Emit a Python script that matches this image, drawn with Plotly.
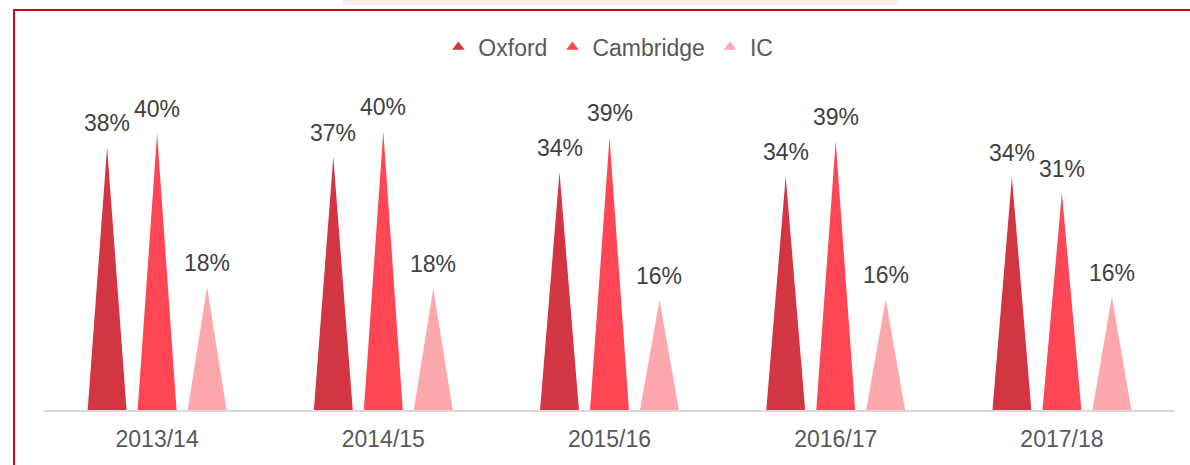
import plotly.graph_objects as go

years = ["2013/14", "2014/15", "2015/16", "2016/17", "2017/18"]
oxford = [38.0, 36.6, 34.4, 33.8, 33.7]
cambridge = [40.0, 40.3, 39.4, 38.9, 31.4]
ic = [17.8, 17.6, 15.9, 16.0, 16.4]

series = [
    ("Oxford", oxford, "#D33643"),
    ("Cambridge", cambridge, "#FE4654"),
    ("IC", ic, "#FDA8AD"),
]

FONT = "Liberation Sans, Arial, sans-serif"
slot = 0.221      # distance between triangle centres (category units)
half_w = 0.086    # half base width of each triangle

fig = go.Figure()
annotations = []

for k, (name, vals, color) in enumerate(series):
    off = (k - 1) * slot
    xs, ys = [], []
    for i, v in enumerate(vals):
        xs += [i + off - half_w, i + off, i + off + half_w, None]
        ys += [0, v, 0, None]
        annotations.append(dict(
            x=i + off, y=v, text=f"{round(v)}%", showarrow=False,
            yanchor="middle", yshift=24,
            font=dict(family=FONT, size=23, color="#404040")))
    fig.add_trace(go.Scatter(
        x=xs, y=ys, mode="lines", fill="toself", fillcolor=color,
        line=dict(width=0, color=color), hoverinfo="skip", showlegend=False))
    # legend entry only
    fig.add_trace(go.Scatter(
        x=[None], y=[None], mode="markers", name=name,
        marker=dict(symbol="triangle-up", size=11, color=color)))

fig.update_layout(
    width=1190, height=465,
    margin=dict(l=44, r=15, t=80, b=55),
    paper_bgcolor="white", plot_bgcolor="white",
    font=dict(family=FONT, size=23, color="#595959"),
    legend=dict(orientation="h", x=0.499, xanchor="center", y=1.1, yanchor="middle",
                font=dict(size=23, color="#595959"), itemwidth=30,
                traceorder="normal"),
    annotations=annotations,
    shapes=[
        dict(type="rect", xref="paper", yref="paper",
             x0=0.2644, x1=0.7551, y0=1.2273, y1=1.26,
             fillcolor="#FDECEC", line=dict(width=0), layer="below"),
        dict(type="rect", xref="paper", yref="paper",
             x0=-0.0265, x1=1.1, y0=-0.3, y1=1.2121,
             line=dict(color="#CC0A1E", width=2)),
    ],
)
fig.update_xaxes(
    range=[-0.5, 4.5], tickvals=list(range(len(years))), ticktext=years,
    showgrid=False, zeroline=False, showline=True, linecolor="#D9D9D9",
    linewidth=2, ticks="", ticklabelstandoff=7,
    tickfont=dict(size=23, color="#595959"))
fig.update_yaxes(range=[0, 47.7], visible=False, showgrid=False, zeroline=False)

fig.write_html("out.html", config={"displayModeBar": False},
               post_script="document.body.style.margin = '0';")
